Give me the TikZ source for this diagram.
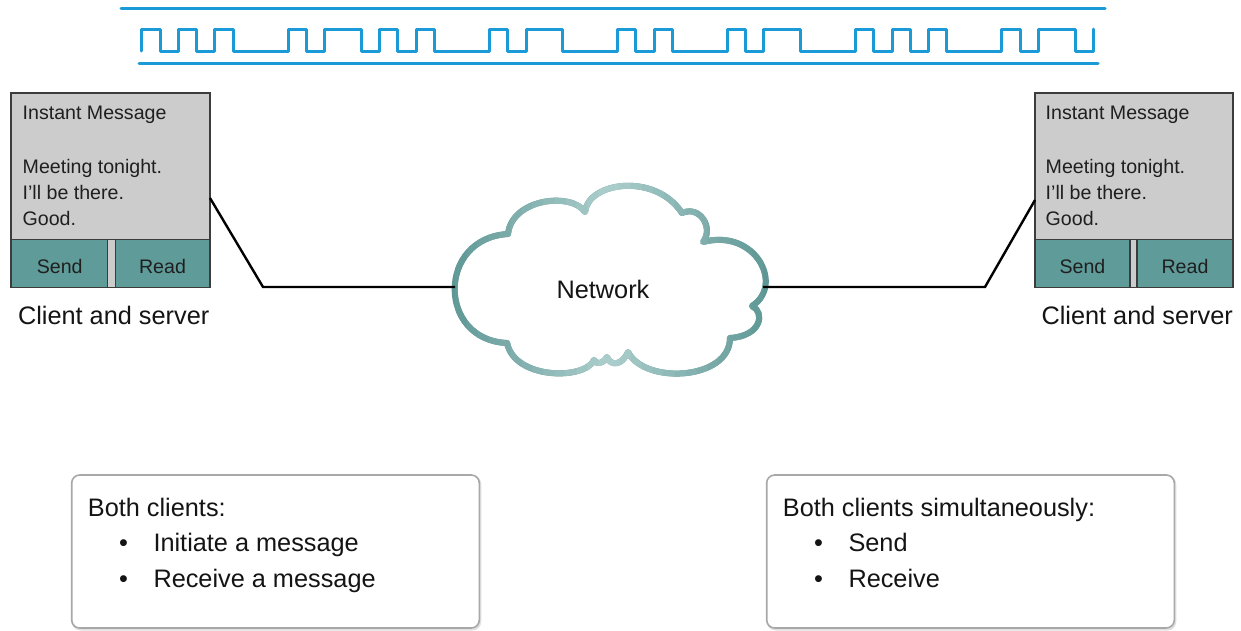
\documentclass[tikz,border=0pt]{standalone}
\usepackage{fontspec}
\setmainfont{Liberation Sans}

\definecolor{wire}{HTML}{1A9AD6}
\definecolor{panel}{HTML}{CCCCCC}
\definecolor{btnteal}{HTML}{5F9B99}
\definecolor{framegray}{HTML}{3C3C3C}
\definecolor{cloudDark}{HTML}{5E9795}
\definecolor{cloudLight}{HTML}{AACDCB}
\definecolor{noteframe}{HTML}{A8A8A8}

% outline of the network cloud
\def\cloudpath{(508,234) .. controls (512,198) and (572,192) .. (585,212)
  .. controls (588,182) and (655,172) .. (682,213)
  .. controls (700,205) and (714,228) .. (703,242)
  .. controls (755,228) and (785,285) .. (752,306)
  .. controls (765,312) and (762,336) .. (730,338)
  .. controls (730,380) and (645,385) .. (628,352)
  .. controls (622,366) and (610,366) .. (607,357)
  .. controls (603,364) and (596,365) .. (594,360)
  .. controls (585,380) and (515,380) .. (507,343)
  .. controls (437,340) and (437,238) .. (508,234) -- cycle}

\begin{document}
\begin{tikzpicture}[x=1pt, y=-1pt,
  signal/.style={draw=wire, line width=3pt, line cap=round, line join=round},
  body/.style={draw=framegray, fill=panel, line width=1.2pt, inner sep=0pt},
  button/.style={draw=framegray, fill=btnteal, line width=1.2pt, inner sep=0pt, minimum height=48.4pt},
  small/.style={font=\fontsize{19.6}{23}\selectfont, inner sep=0pt, text=black!88},
  large/.style={font=\fontsize{25.3}{30}\selectfont, inner sep=0pt, text=black!92},
  link/.style={draw=black, line width=2.4pt, line join=miter},
  cloudline/.style={line width=6pt, line join=round},
  notebox/.style={draw=noteframe, fill=white, line width=1.6pt, rounded corners=8pt,
    minimum width=407.6pt, minimum height=153pt, inner sep=0pt},
  noteshadow/.style={draw=black!12, line width=2pt, rounded corners=8pt,
    minimum width=407.6pt, minimum height=153pt, inner sep=0pt}]

\useasboundingbox (0,0) rectangle (1241,630);
\fill[white] (0,0) rectangle (1241,630);

% ---- digital signal between two rails ----
\draw[signal] (121,8) -- (1105,8);
\draw[signal] (139,63) -- (1098,63);
\begin{scope}[shift={(141.7,0)}, x=18.3pt]
\draw[signal] (0,51) |- (1,29) |- (2,51) |- (3,29) |- (4,51) |- (5,29) |- (8,51)
  |- (9,29) |- (10,51) |- (12,29) |- (13,51) |- (14,29) |- (15,51) |- (16,29)
  |- (19,51) |- (20,29) |- (21,51) |- (23,29) |- (26,51) |- (27,29) |- (28,51)
  |- (29,29) |- (32,51) |- (33,29) |- (34,51) |- (36,29) |- (39,51) |- (40,29)
  |- (41,51) |- (42,29) |- (43,51) |- (44,29) |- (47,51) |- (48,29) |- (49,51)
  |- (51,29) |- (52,51) -- (52,29);
\end{scope}

% ---- left instant-message client ----
\node[body, minimum width=199pt, minimum height=194.7pt] (ldev) at (110.5,190.35) {};
\draw[framegray, line width=1.2pt] (11,239.3) -- (210,239.3);
\node[button, minimum width=96.3pt] (lsend) at (59.15,263.5) {};
\node[button, minimum width=94.7pt] (lread) at (162.65,263.5) {};
\node[small, anchor=base west] (ltitle) at (22.5,119.5) {Instant Message};
\node[small, anchor=base west] (lmsg1) at (22.5,173) {Meeting tonight.};
\node[small, anchor=base west] (lmsg2) at (22.5,199) {I’ll be there.};
\node[small, anchor=base west] (lmsg3) at (22.5,225) {Good.};
\node[small, anchor=base] (lsendt) at (59.7,273.3) {Send};
\node[small, anchor=base] (lreadt) at (162.5,273.3) {Read};
\node[large, anchor=base east] (lcap) at (209.5,324.3) {Client and server};

% ---- right instant-message client ----
\node[body, minimum width=198pt, minimum height=194.7pt] (rdev) at (1134,190.35) {};
\draw[framegray, line width=1.2pt] (1035,239.3) -- (1233,239.3);
\node[button, minimum width=95pt] (rsend) at (1082.5,263.5) {};
\node[button, minimum width=96pt] (rread) at (1185,263.5) {};
\node[small, anchor=base west] (rtitle) at (1045.5,119.5) {Instant Message};
\node[small, anchor=base west] (rmsg1) at (1045.5,173) {Meeting tonight.};
\node[small, anchor=base west] (rmsg2) at (1045.5,199) {I’ll be there.};
\node[small, anchor=base west] (rmsg3) at (1045.5,225) {Good.};
\node[small, anchor=base] (rsendt) at (1082.5,273.3) {Send};
\node[small, anchor=base] (rreadt) at (1185,273.3) {Read};
\node[large, anchor=base east] (rcap) at (1233,324.3) {Client and server};

% ---- network cloud: dark edges, lighter towards the middle ----
\fill[white] \cloudpath;
\draw[cloudline, draw=cloudDark] \cloudpath;
\foreach \i in {0,...,13}{
  \pgfmathsetmacro{\shade}{100-\i*100/14}
  \pgfmathsetmacro{\xa}{609-11*(\i+1)}
  \pgfmathsetmacro{\xb}{609-11*\i}
  \pgfmathsetmacro{\xc}{609+11*\i}
  \pgfmathsetmacro{\xd}{609+11*(\i+1)}
  \begin{scope}
    \clip (\xa,150) rectangle (\xb+0.4,400) (\xc-0.4,150) rectangle (\xd,400);
    \draw[cloudline, draw=cloudLight!\shade!cloudDark] \cloudpath;
  \end{scope}
}
\node[large, anchor=base] (net) at (603,298.3) {Network};

% ---- links from the clients to the cloud ----
\coordinate (lport) at (210,198);
\coordinate (lbend) at (263,287);
\coordinate (cloudW) at (455,287);
\coordinate (rport) at (1035,200);
\coordinate (rbend) at (985,287);
\coordinate (cloudE) at (763,287);
\draw[link] (lport) -- (lbend) -- (cloudW);
\draw[link] (rport) -- (rbend) -- (cloudE);

% ---- notes ----
\node[noteshadow] (lnoteshadow) at (276.5,553) {};
\node[notebox] (lnote) at (275.5,551.5) {};
\node[large, anchor=base west] (lhead) at (87.7,516) {Both clients:};
\node[large, anchor=base west] (lb1) at (118.9,551) {•};
\node[large, anchor=base west] (li1) at (153.3,551) {Initiate a message};
\node[large, anchor=base west] (lb2) at (118.9,587) {•};
\node[large, anchor=base west] (li2) at (153.3,587) {Receive a message};

\node[noteshadow] (rnoteshadow) at (971.5,553) {};
\node[notebox] (rnote) at (970.5,551.5) {};
\node[large, anchor=base west] (rhead) at (782.7,516) {Both clients simultaneously:};
\node[large, anchor=base west] (rb1) at (813.9,551) {•};
\node[large, anchor=base west] (ri1) at (848.3,551) {Send};
\node[large, anchor=base west] (rb2) at (813.9,587) {•};
\node[large, anchor=base west] (ri2) at (848.3,587) {Receive};
\end{tikzpicture}
\end{document}
